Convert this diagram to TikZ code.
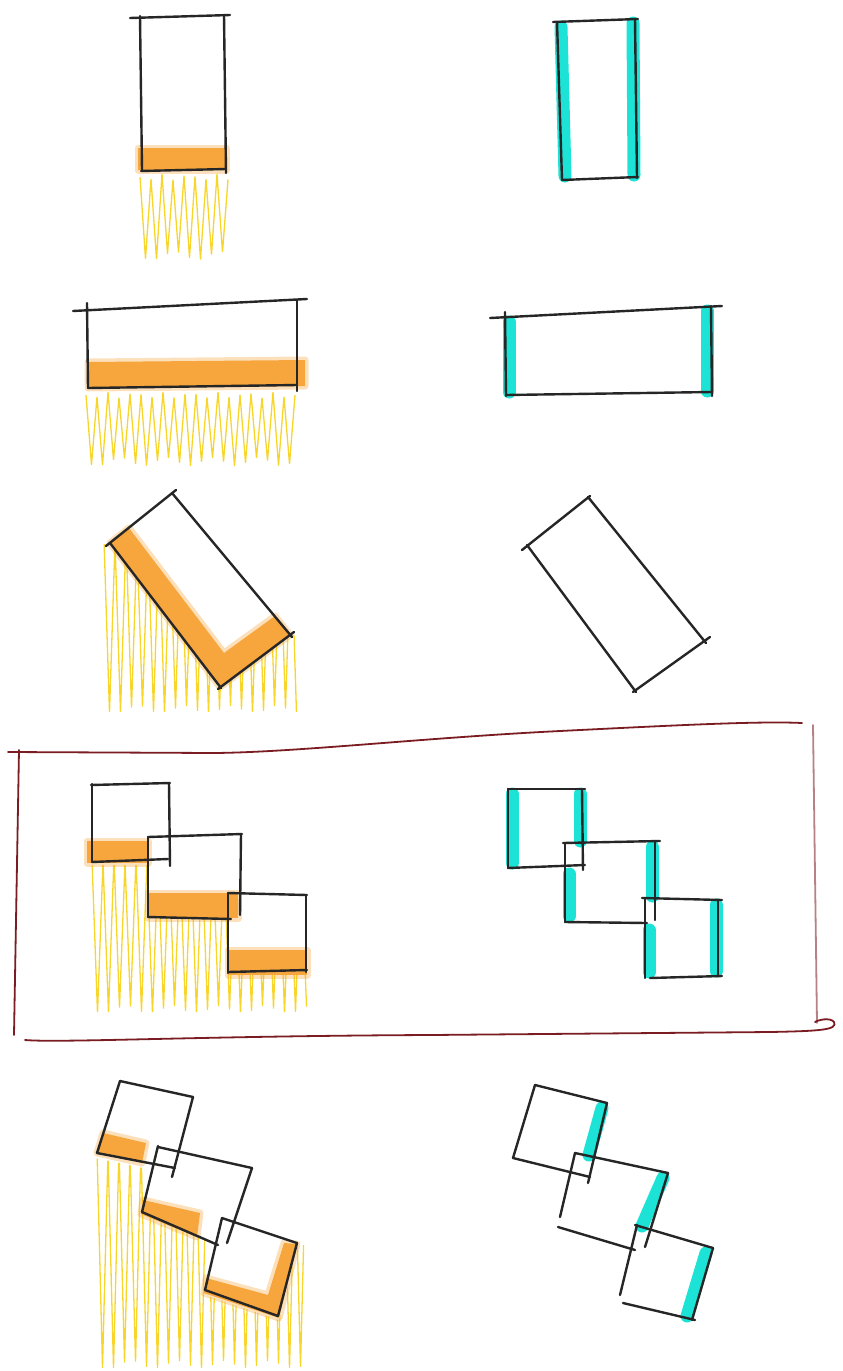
\documentclass[tikz,border=0pt]{standalone}
\usepackage{xcolor}
\usepackage{tikz}
\usetikzlibrary{calc}
\definecolor{ink}{HTML}{262626}
\definecolor{hlorange}{HTML}{F6A63C}
\definecolor{fringeyellow}{HTML}{F7D52B}
\definecolor{hlcyan}{HTML}{1CE3D6}
\definecolor{framered}{HTML}{7A1C22}
\tikzset{
  pen/.style={draw=ink, line width=2.4pt, line cap=round, line join=round},
  fringe/.style={draw=fringeyellow, line width=1.3pt},
  lit/.style={fill=hlorange, preaction={draw=hlorange, line width=7pt, opacity=0.35, line join=round}},
  cyanedge/.style={draw=hlcyan, line width=13pt, line cap=round},
  boxframe/.style={draw=framered, line width=1.8pt, line cap=round}
}
% zigzag of thin yellow strokes: left x, count, top y, bottom y
\newcommand{\fringe}[4]{%
  \draw[fringe] (#1,#3) \foreach \i in {1,...,#2} { -- ({#1+5.5*\i},{mod(\i,2)==1 ? #4+4*sin(\i*137) : #3+3*sin(\i*71)}) };
}

\begin{document}
\begin{tikzpicture}[x=1pt, y=-1pt]
        \useasboundingbox (0,0) rectangle (843,1371);

        % Row 1
        \fringe{140}{16}{177}{256}
        \fill[lit] (138,148) rectangle (226,170);
        \draw[pen] (130,18) -- (230,15);
        \draw[pen] (140,16) -- (142,170);
        \draw[pen] (224,15) -- (226,173);
        \draw[pen] (141,171) -- (226,169);

        \draw[cyanedge] (561,27) -- (565,176);
        \draw[cyanedge] (633,23) -- (634,175);
        \draw[pen] (553,22) -- (638,19);
        \draw[pen] (557,22) -- (562,180);
        \draw[pen] (635,19) -- (637,178);
        \draw[pen] (562,180) -- (638,177);

        % Row 2
        \fringe{86}{38}{395}{462}
        \fill[lit] (88,362) -- (305,360) -- (305,386) -- (88,388) -- cycle;
        \draw[pen] (73,311) -- (307,299);
        \draw[pen] (87,303) -- (88,388);
        \draw[pen] (297,300) -- (297,391);
        \draw[pen] (88,388) -- (297,385);

        \draw[cyanedge] (509,322) -- (509,392);
        \draw[cyanedge] (707,311) -- (707,391);
        \draw[pen] (490,318) -- (722,306);
        \draw[pen] (505,312) -- (506,396);
        \draw[pen] (711,306) -- (712,396);
        \draw[pen] (506,395) -- (712,392);

        % Row 3
        \begin{scope}
          \clip (100,545) -- (110,543) -- (220,687) -- (290,635) -- (298,635) -- (298,712) -- (100,712) -- cycle;
          \fringe{104}{35}{540}{710}
        \end{scope}
        \fill[lit] (110,543) -- (220,687) -- (290,635) -- (275,616) -- (224,653) -- (129,528) -- cycle;
        \draw[pen] (176,490) -- (106,546);
        \draw[pen] (110,543) -- (221,688);
        \draw[pen] (218,689) -- (294,632);
        \draw[pen] (292,637) -- (172,493);

        \draw[pen] (590,496) -- (522,550);
        \draw[pen] (527,545) -- (636,692);
        \draw[pen] (633,692) -- (710,637);
        \draw[pen] (706,643) -- (588,497);

        % Row 4 (framed)
        \draw[boxframe] (8,752) -- (215,753) .. controls (300,752) and (420,738) .. (560,731) .. controls (680,725) and (760,721) .. (802,723);
        \draw[boxframe] (19,750) -- (14,1035);
        \draw[boxframe, draw=framered!55] (813,725) -- (817,1023);
        \draw[boxframe] (25,1040) .. controls (60,1043) and (200,1036) .. (430,1035) -- (770,1032) .. controls (820,1031) and (838,1030) .. (834,1022) .. controls (830,1017) and (818,1020) .. (815,1022);

        \begin{scope}
          \clip (90,865) -- (148,865) -- (148,918) -- (228,918) -- (228,975) -- (308,975) -- (308,1012) -- (90,1012) -- cycle;
          \fringe{92}{39}{860}{1010}
        \end{scope}
        \fill[lit] (87,841) rectangle (148,863);
        \fill[lit] (148,893) rectangle (238,918);
        \fill[lit] (228,950) rectangle (307,975);
        \draw[pen] (91,785) -- (170,783);
        \draw[pen] (92,784) -- (92,862);
        \draw[pen] (169,783) -- (170,866);
        \draw[pen] (92,862) -- (168,859);
        \draw[pen] (148,837) -- (242,834);
        \draw[pen] (148,837) -- (148,917);
        \draw[pen] (241,834) -- (240,915);
        \draw[pen] (148,917) -- (231,919);
        \draw[pen] (228,893) -- (307,895);
        \draw[pen] (228,893) -- (228,973);
        \draw[pen] (306,895) -- (306,972);
        \draw[pen] (228,972) -- (307,970);

        \draw[cyanedge] (512,794) -- (512,863);
        \draw[cyanedge] (580,794) -- (580,841);
        \draw[cyanedge] (569,874) -- (569,916);
        \draw[cyanedge] (652,847) -- (652,896);
        \draw[cyanedge] (649,930) -- (649,972);
        \draw[cyanedge] (716,905) -- (716,971);
        \draw[pen] (508,789) -- (585,789);
        \draw[pen] (508,789) -- (508,868);
        \draw[pen] (582,789) -- (583,870);
        \draw[pen] (508,868) -- (585,865);
        \draw[pen] (563,843) -- (660,841);
        \draw[pen] (565,843) -- (565,922);
        \draw[pen] (655,841) -- (655,920);
        \draw[pen] (565,922) -- (647,923);
        \draw[pen] (642,898) -- (722,900);
        \draw[pen] (645,898) -- (645,978);
        \draw[pen] (718,900) -- (718,976);
        \draw[pen] (650,978) -- (722,976);

        % Row 5
        \begin{scope}
          \clip (95,1158) -- (143,1168) -- (143,1215) -- (205,1240) -- (205,1295) -- (279,1320) -- (298,1245) -- (308,1245) -- (308,1368) -- (95,1368) -- cycle;
          \fringe{97}{38}{1150}{1365}
        \end{scope}
        \fill[lit] (97,1153) -- (142,1163) -- (146,1143) -- (103,1133) -- cycle;
        \fill[lit] (143,1200) -- (200,1213) -- (197,1237) -- (141,1214) -- cycle;
        \fill[lit] (206,1278) -- (268,1295) -- (284,1243) -- (297,1244) -- (279,1318) -- (204,1293) -- cycle;
        \draw[pen] (120,1081) -- (193,1097);
        \draw[pen] (120,1081) -- (97,1153);
        \draw[pen] (193,1097) -- (172,1177);
        \draw[pen] (97,1153) -- (175,1168);
        \draw[pen] (158,1147) -- (252,1168);
        \draw[pen] (158,1146) -- (142,1212);
        \draw[pen] (252,1168) -- (227,1243);
        \draw[pen] (142,1212) -- (218,1245);
        \draw[pen] (222,1218) -- (297,1243);
        \draw[pen] (222,1218) -- (205,1290);
        \draw[pen] (297,1243) -- (278,1316);
        \draw[pen] (205,1290) -- (278,1316);

        \draw[cyanedge] (602,1108) -- (589,1155);
        \draw[cyanedge] (663,1178) -- (642,1226);
        \draw[cyanedge] (706,1253) -- (687,1316);
        \draw[pen] (535,1085) -- (607,1103);
        \draw[pen] (535,1085) -- (513,1158);
        \draw[pen] (607,1103) -- (588,1183);
        \draw[pen] (513,1158) -- (590,1177);
        \draw[pen] (575,1153) -- (668,1173);
        \draw[pen] (575,1153) -- (560,1217);
        \draw[pen] (668,1173) -- (645,1247);
        \draw[pen] (558,1227) -- (635,1250);
        \draw[pen] (635,1225) -- (713,1248);
        \draw[pen] (637,1225) -- (620,1295);
        \draw[pen] (713,1248) -- (692,1320);
        \draw[pen] (623,1303) -- (695,1320);
    \end{tikzpicture}
\end{document}
